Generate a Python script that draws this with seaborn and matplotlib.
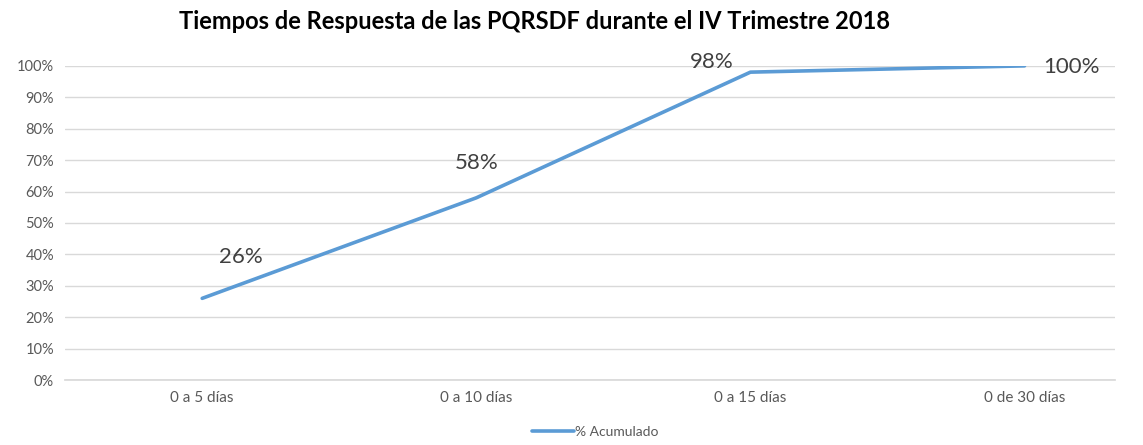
import numpy as np
import matplotlib.pyplot as plt
import pandas as pd
import seaborn as sns

sns.set_theme(style="whitegrid")
plt.rcParams['font.family'] = ['Lato', 'DejaVu Sans']

categorias = ['0 a 5 días', '0 a 10 días', '0 a 15 días', '0 de 30 días']
acumulado = [0.26, 0.58, 0.98, 1.00]
etiquetas = ['26%', '58%', '98%', '100%']

df = pd.DataFrame({'pos': np.arange(len(categorias)), 'valor': acumulado})

fig = plt.figure(figsize=(11.43, 4.45), dpi=100)
ax = fig.add_axes([0.057, 0.146, 0.9185, 0.706])

sns.lineplot(data=df, x='pos', y='valor', ax=ax, color='#5B9BD5',
             linewidth=2.6, label='% Acumulado')

# posiciones de las etiquetas de datos (desplazamiento en puntos)
offsets = [(28, 30), (0, 25), (-28, 7), (34, -1)]
for i, (v, t) in enumerate(zip(acumulado, etiquetas)):
    ax.annotate(t, (i, v), xytext=offsets[i], textcoords='offset points',
                ha='center', va='center', fontsize=16, color='#404040')

ax.set_xlim(-0.5, 3.33)
ax.set_ylim(0, 1.0)
ax.set_yticks(np.arange(0, 1.01, 0.1))
ax.set_yticklabels([f'{int(round(t * 100))}%' for t in np.arange(0, 1.01, 0.1)])
ax.set_xticks(df['pos'])
ax.set_xticklabels(categorias)
ax.tick_params(axis='both', labelsize=10.5, colors='#595959', length=0, pad=8)
ax.tick_params(axis='x', labelsize=11)
ax.grid(axis='y', color='#D9D9D9', linewidth=1)
ax.grid(axis='x', visible=False)
for s in ['top', 'right', 'left']:
    ax.spines[s].set_visible(False)
ax.spines['bottom'].set_color('#D9D9D9')
ax.set_xlabel('')
ax.set_ylabel('')

ax.legend(loc='upper center', bbox_to_anchor=(0.505, -0.115), frameon=False,
          fontsize=10, labelcolor='#595959', handlelength=3, handletextpad=0.1,
          borderpad=0.2)

fig.text(0.468, 0.952, 'Tiempos de Respuesta de las PQRSDF durante el IV Trimestre 2018',
         ha='center', va='center', fontsize=17, fontweight='bold', color='black')

fig.savefig('out.png', dpi=100, facecolor='white')
